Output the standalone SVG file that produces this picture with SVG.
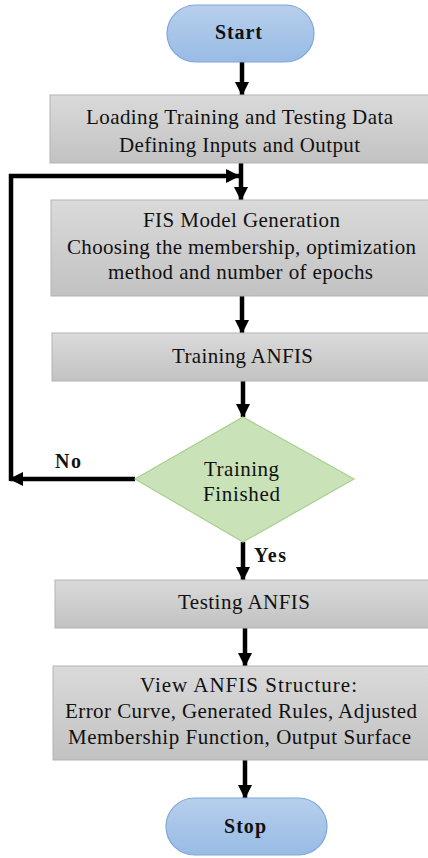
<svg xmlns="http://www.w3.org/2000/svg" width="428" height="858" viewBox="0 0 428 858">
<defs>
<linearGradient id="gGrey" x1="0" y1="0" x2="0" y2="1">
<stop offset="0" stop-color="#dadada"/><stop offset="1" stop-color="#c2c2c2"/>
</linearGradient>
<linearGradient id="gBlue" x1="0" y1="0" x2="0" y2="1">
<stop offset="0" stop-color="#b7cfec"/><stop offset="1" stop-color="#98bbe5"/>
</linearGradient>
<marker id="ah" markerUnits="userSpaceOnUse" markerWidth="16" markerHeight="16" refX="13" refY="7" orient="auto">
<path d="M0,0 L14,7 L0,14 Z" fill="#000"/>
</marker>
<style>
.box{fill:url(#gGrey);stroke:#b3b3b3;stroke-width:1}
.pill{fill:url(#gBlue);stroke:#7ea7d8;stroke-width:1.2}
.dia{fill:#c9e2b8;stroke:#a8d08d;stroke-width:1.2}
.t{font-family:"Liberation Serif","Times New Roman",serif;font-size:21px;fill:#111;text-anchor:middle}
.b{font-family:"Liberation Serif","Times New Roman",serif;font-size:20px;font-weight:bold;fill:#111}
.c{fill:none;stroke:#000;stroke-width:4.5}
</style>
</defs>
<g id="connectors">
<path class="c" d="M242,62 V95" marker-end="url(#ah)"/>
<path class="c" d="M241,163 V200" marker-end="url(#ah)"/>
<path class="c" d="M242,296 V333" marker-end="url(#ah)"/>
<path class="c" d="M243,381 V417" marker-end="url(#ah)"/>
<path class="c" d="M243,542 V580" marker-end="url(#ah)"/>
<path class="c" d="M245,628 V666" marker-end="url(#ah)"/>
<path class="c" d="M245,760 V798" marker-end="url(#ah)"/>
<path class="c" d="M135,479 H10" marker-end="url(#ah)"/>
<path class="c" d="M11,481 V176 H239" marker-end="url(#ah)"/>
<text class="b" x="55" y="468" textLength="26">No</text>
<text class="b" x="254" y="562" textLength="32">Yes</text>
</g>
<g id="start">
<rect class="pill" x="167" y="5" width="147" height="57" rx="28.5"/>
<text class="b" x="238.5" y="39" text-anchor="middle" textLength="47">Start</text>
</g>
<g id="load">
<rect class="box" x="50" y="95" width="390" height="68"/>
<text class="t" x="239.5" y="124" textLength="307">Loading Training and Testing Data</text>
<text class="t" x="239.5" y="152" textLength="241">Defining Inputs and Output</text>
</g>
<g id="fis">
<rect class="box" x="51" y="200" width="390" height="96"/>
<text class="t" x="241.5" y="227" textLength="197">FIS Model Generation</text>
<text class="t" x="241.5" y="254" textLength="349">Choosing the membership, optimization</text>
<text class="t" x="240.5" y="279" textLength="265">method and number of epochs</text>
</g>
<g id="train">
<rect class="box" x="52" y="333" width="390" height="48"/>
<text class="t" x="242.5" y="363" textLength="141">Training ANFIS</text>
</g>
<g id="decision">
<polygon class="dia" points="243,417 354,479 243,542 135,479"/>
<text class="t" x="241.5" y="476" textLength="75">Training</text>
<text class="t" x="241.5" y="501" textLength="77">Finished</text>
</g>
<g id="test">
<rect class="box" x="55" y="580" width="390" height="48"/>
<text class="t" x="244" y="609" textLength="132">Testing ANFIS</text>
</g>
<g id="view">
<rect class="box" x="53" y="666" width="390" height="94"/>
<text class="t" x="248.5" y="692" textLength="217">View ANFIS Structure:</text>
<text class="t" x="241" y="718" textLength="352">Error Curve, Generated Rules, Adjusted</text>
<text class="t" x="239.5" y="744" textLength="343">Membership Function, Output Surface</text>
</g>
<g id="stop">
<rect class="pill" x="166" y="798" width="161" height="57" rx="28.5"/>
<text class="b" x="245" y="833" text-anchor="middle" textLength="42">Stop</text>
</g>
</svg>
